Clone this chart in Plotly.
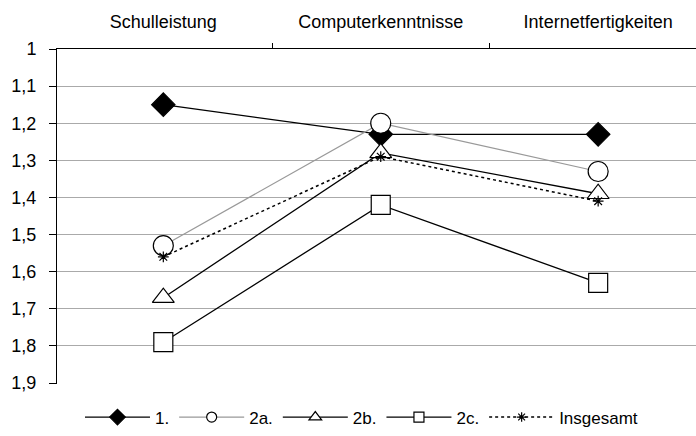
import plotly.graph_objects as go

categories = ["Schulleistung", "Computerkenntnisse", "Internetfertigkeiten"]
series_names = ["1.", "2a.", "2b.", "2c.", "Insgesamt"]
v1 = [1.15, 1.23, 1.23]
v2a = [1.53, 1.20, 1.33]
v2b = [1.67, 1.28, 1.39]
v2c = [1.79, 1.42, 1.63]
v_all = [1.56, 1.29, 1.41]
y_tickvals = [1, 1.1, 1.2, 1.3, 1.4, 1.5, 1.6, 1.7, 1.8, 1.9]
y_ticktext = ["1", "1,1", "1,2", "1,3", "1,4", "1,5", "1,6", "1,7", "1,8", "1,9"]

lines = [
    dict(color="black", width=1.3),
    dict(color="#999999", width=1.2),
    dict(color="black", width=1.3),
    dict(color="black", width=1.3),
    dict(color="black", width=1.5, dash="dot"),
]
symbols = ["diamond", "circle", "triangle-up", "square", "asterisk-open"]
fills = ["black", "white", "white", "white", "black"]
plot_sizes = [18, 20, 19, 19, 9]
legend_sizes = [12, 10, 11, 10, 8]
values = [v1, v2a, v2b, v2c, v_all]

fig = go.Figure()
for name, vals, ln, sym, fc, ps in zip(series_names, values, lines, symbols, fills, plot_sizes):
    fig.add_trace(go.Scatter(x=categories, y=vals, name=name, mode="lines+markers",
                             line=ln, showlegend=False,
                             marker=dict(symbol=sym, size=ps, color=fc,
                                         line=dict(color="black", width=1.2))))
# legend entries with smaller symbols (no data drawn)
for name, ln, sym, fc, ls in zip(series_names, lines, symbols, fills, legend_sizes):
    fig.add_trace(go.Scatter(x=[None], y=[None], name=name, mode="lines+markers",
                             line=ln, showlegend=True,
                             marker=dict(symbol=sym, size=ls, color=fc,
                                         line=dict(color="black", width=1.2))))

font = "Liberation Sans, Arial, sans-serif"
fig.update_layout(
    width=696, height=436,
    margin=dict(l=57, r=0, t=49, b=46),
    paper_bgcolor="white", plot_bgcolor="white",
    font=dict(family=font, size=17, color="black"),
    showlegend=True,
    legend=dict(orientation="h", x=0.4765, xanchor="center", y=-0.1, yanchor="middle",
                itemwidth=65, font=dict(size=17), bgcolor="rgba(0,0,0,0)"),
    xaxis=dict(type="category", side="top", range=[-0.489, 2.45], showgrid=False,
               automargin=False,
               showline=True, linecolor="black", linewidth=1,
               ticks="outside", tickson="boundaries", ticklen=5, tickcolor="black",
               tickfont=dict(size=18), ticklabelstandoff=13),
    yaxis=dict(range=[1.9026, 1], tickvals=y_tickvals, ticktext=y_ticktext,
               automargin=False,
               showgrid=True, gridcolor="#aaaaaa", gridwidth=1,
               showline=True, linecolor="black", linewidth=1,
               ticks="outside", ticklen=7, tickcolor="black", zeroline=False,
               tickfont=dict(size=18), ticklabelstandoff=9),
)
fig.write_html("out.html", config={"displayModeBar": False},
               post_script="document.body.style.margin='0';document.body.style.overflow='hidden';")
